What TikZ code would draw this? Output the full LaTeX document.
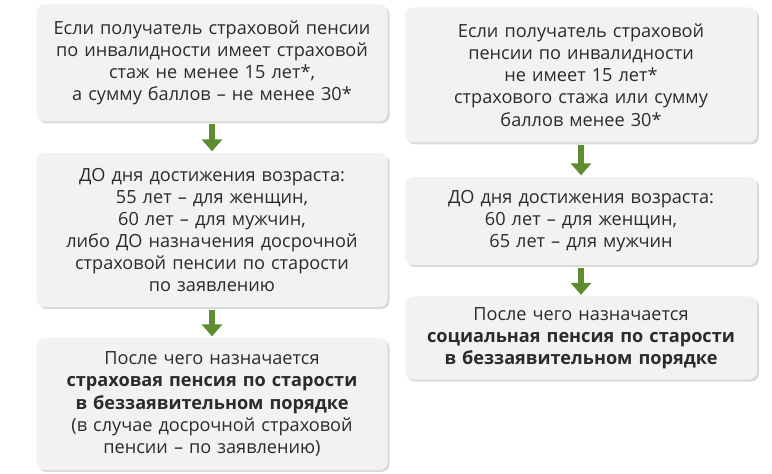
\documentclass[tikz,border=0pt]{standalone}
\usepackage{fontspec}
\setmainfont{Open Sans}
\usetikzlibrary{arrows.meta,shadows}

\definecolor{boxgray}{HTML}{F2F2F2}
\definecolor{arrowgreen}{HTML}{5E8C31}
\definecolor{textgray}{HTML}{2B2B2B}

\begin{document}
\begin{tikzpicture}[x=0.75pt, y=-0.75pt,
                    font=\fontsize{13.6}{16.6}\selectfont]
    \tikzset{infobox/.style={fill=boxgray, rounded corners=6pt, align=center,
                 inner sep=0pt, text width=262pt, text=textgray,
                 drop shadow={shadow xshift=1.5pt, shadow yshift=-1.5pt,
                              opacity=0.25, fill=black!60}},
             flow/.style={-{Triangle[length=9pt,width=15pt]}, line width=4pt,
                 arrowgreen, shorten <=2pt, shorten >=1pt}}
    \useasboundingbox (0,0) rectangle (772,474);

    \node[infobox, minimum width=351pt*0.75, minimum height=117*0.75pt] (L1) at (212,63)
        {Если получатель страховой пенсии\\по инвалидности имеет страховой\\стаж не менее 15 лет*,\\а сумму баллов – не менее 30*};
    \node[infobox, minimum width=351pt*0.75, minimum height=154*0.75pt] (L2) at (212,230)
        {ДО дня достижения возраста:\\55 лет – для женщин,\\60 лет – для мужчин,\\либо ДО назначения досрочной\\страховой пенсии по старости\\по заявлению};
    \node[infobox, minimum width=351pt*0.75, minimum height=132*0.75pt] (L3) at (212,404)
        {После чего назначается\\\textbf{страховая пенсия по старости}\\\textbf{в беззаявительном порядке}\\(в случае досрочной страховой\\пенсии – по заявлению)};

    \node[infobox, minimum width=352pt*0.75, minimum height=135*0.75pt] (R1) at (581,75)
        {Если получатель страховой\\пенсии по инвалидности\\не имеет 15 лет*\\страхового стажа или сумму\\баллов менее 30*};
    \node[infobox, minimum width=352pt*0.75, minimum height=88*0.75pt] (R2) at (581,221)
        {ДО дня достижения возраста:\\60 лет – для женщин,\\65 лет – для мужчин};
    \node[infobox, minimum width=352pt*0.75, minimum height=83*0.75pt] (R3) at (581,338)
        {После чего назначается\\\textbf{социальная пенсия по старости}\\\textbf{в беззаявительном порядке}};

    \draw[flow] (L1) -- (L2);
    \draw[flow] (L2) -- (L3);
    \draw[flow] (R1) -- (R2);
    \draw[flow] (R2) -- (R3);
\end{tikzpicture}
\end{document}
